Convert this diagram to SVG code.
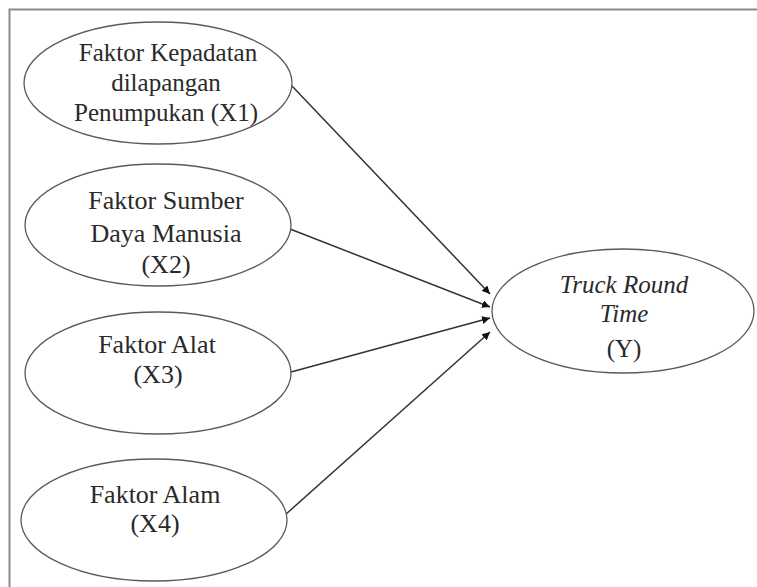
<svg xmlns="http://www.w3.org/2000/svg" width="757" height="587" viewBox="0 0 757 587">
<style>
.node ellipse{fill:#fff;stroke:#5a5a5a;stroke-width:1.3}
text{font-family:"Liberation Serif","Times New Roman",serif;font-size:26px;fill:#2a2a2a;text-anchor:middle}
.it{font-style:italic}
.y text{font-size:25px}
.x1 text{font-size:25px}
.edge{stroke:#333;stroke-width:1.5;fill:none;marker-end:url(#ah)}
</style>
<defs>
<marker id="ah" viewBox="0 0 10 10" refX="10" refY="5" markerWidth="8" markerHeight="8" markerUnits="userSpaceOnUse" orient="auto">
<path d="M0,0 L10,5 L0,10 z" fill="#111"/>
</marker>
</defs>
<rect width="757" height="587" fill="#fff"/>
<path d="M9.5,587 V9.5 H757" fill="none" stroke="#8a8a8a" stroke-width="2"/>
<g id="connectors">
<line class="edge" x1="292" y1="86" x2="490" y2="294"/>
<line class="edge" x1="290" y1="229" x2="490" y2="307"/>
<line class="edge" x1="291" y1="372" x2="490" y2="318"/>
<line class="edge" x1="285" y1="515" x2="490" y2="332"/>
</g>
<g id="x1" class="node x1">
<ellipse cx="158" cy="83" rx="134" ry="61"/>
<text x="168" y="61">Faktor Kepadatan</text>
<text x="166" y="91">dilapangan</text>
<text x="166" y="121">Penumpukan (X1)</text>
</g>
<g id="x2" class="node">
<ellipse cx="158" cy="225" rx="133" ry="61"/>
<text x="166" y="209">Faktor Sumber</text>
<text x="166" y="242">Daya Manusia</text>
<text x="166" y="273">(X2)</text>
</g>
<g id="x3" class="node">
<ellipse cx="158" cy="373" rx="133" ry="61"/>
<text x="157" y="353">Faktor Alat</text>
<text x="158" y="383">(X3)</text>
</g>
<g id="x4" class="node">
<ellipse cx="154" cy="520" rx="133" ry="61"/>
<text x="155" y="503">Faktor Alam</text>
<text x="155" y="532">(X4)</text>
</g>
<g id="y" class="node y">
<ellipse cx="623" cy="311" rx="131" ry="62"/>
<text class="it" x="624" y="293">Truck Round</text>
<text class="it" x="624" y="322">Time</text>
<text x="624" y="357">(Y)</text>
</g>
</svg>
